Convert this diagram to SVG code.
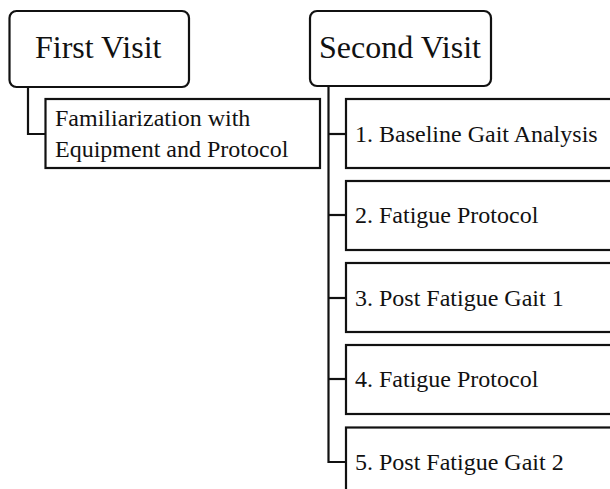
<svg xmlns="http://www.w3.org/2000/svg" width="610" height="489" viewBox="0 0 610 489">
  <style>
    .head rect { fill: #fff; stroke: #111; stroke-width: 2.2; }
    .item rect { fill: #fff; stroke: #111; stroke-width: 2.2; }
    .head text { font-family: "Liberation Serif", "Times New Roman", serif; font-size: 32px; fill: #111; }
    .item text { font-family: "Liberation Serif", "Times New Roman", serif; font-size: 24px; fill: #111; }
    #connectors path { fill: none; stroke: #111; stroke-width: 2.2; }
  </style>
  <rect width="610" height="489" fill="#fff"/>

  <!-- tree connectors -->
  <g id="connectors">
    <path d="M28 87 V134 H46"/>
    <path d="M328.5 86 V462 H346"/>
    <path d="M328.5 134 H346"/>
    <path d="M328.5 215 H346"/>
    <path d="M328.5 298 H346"/>
    <path d="M328.5 379 H346"/>
  </g>

  <g id="first-visit" class="head">
    <rect x="9.5" y="11" width="179.5" height="76" rx="7"/>
    <text x="35" y="58">First Visit</text>
  </g>
  <g id="second-visit" class="head">
    <rect x="310" y="11" width="181" height="75" rx="7"/>
    <text x="319" y="58">Second Visit</text>
  </g>

  <g id="familiarization" class="item">
    <rect x="45.5" y="99" width="274.5" height="69"/>
    <text x="55" y="126">Familiarization with</text>
    <text x="55" y="157">Equipment and Protocol</text>
  </g>

  <g id="step-1" class="item">
    <rect x="346" y="99" width="280" height="69"/>
    <text x="355" y="142">1. Baseline Gait Analysis</text>
  </g>
  <g id="step-2" class="item">
    <rect x="346" y="181" width="280" height="69"/>
    <text x="355" y="223">2. Fatigue Protocol</text>
  </g>
  <g id="step-3" class="item">
    <rect x="346" y="263" width="280" height="69"/>
    <text x="355" y="306">3. Post Fatigue Gait 1</text>
  </g>
  <g id="step-4" class="item">
    <rect x="346" y="345" width="280" height="69"/>
    <text x="355" y="387">4. Fatigue Protocol</text>
  </g>
  <g id="step-5" class="item">
    <rect x="346" y="427.5" width="280" height="69"/>
    <text x="355" y="470">5. Post Fatigue Gait 2</text>
  </g>
</svg>
